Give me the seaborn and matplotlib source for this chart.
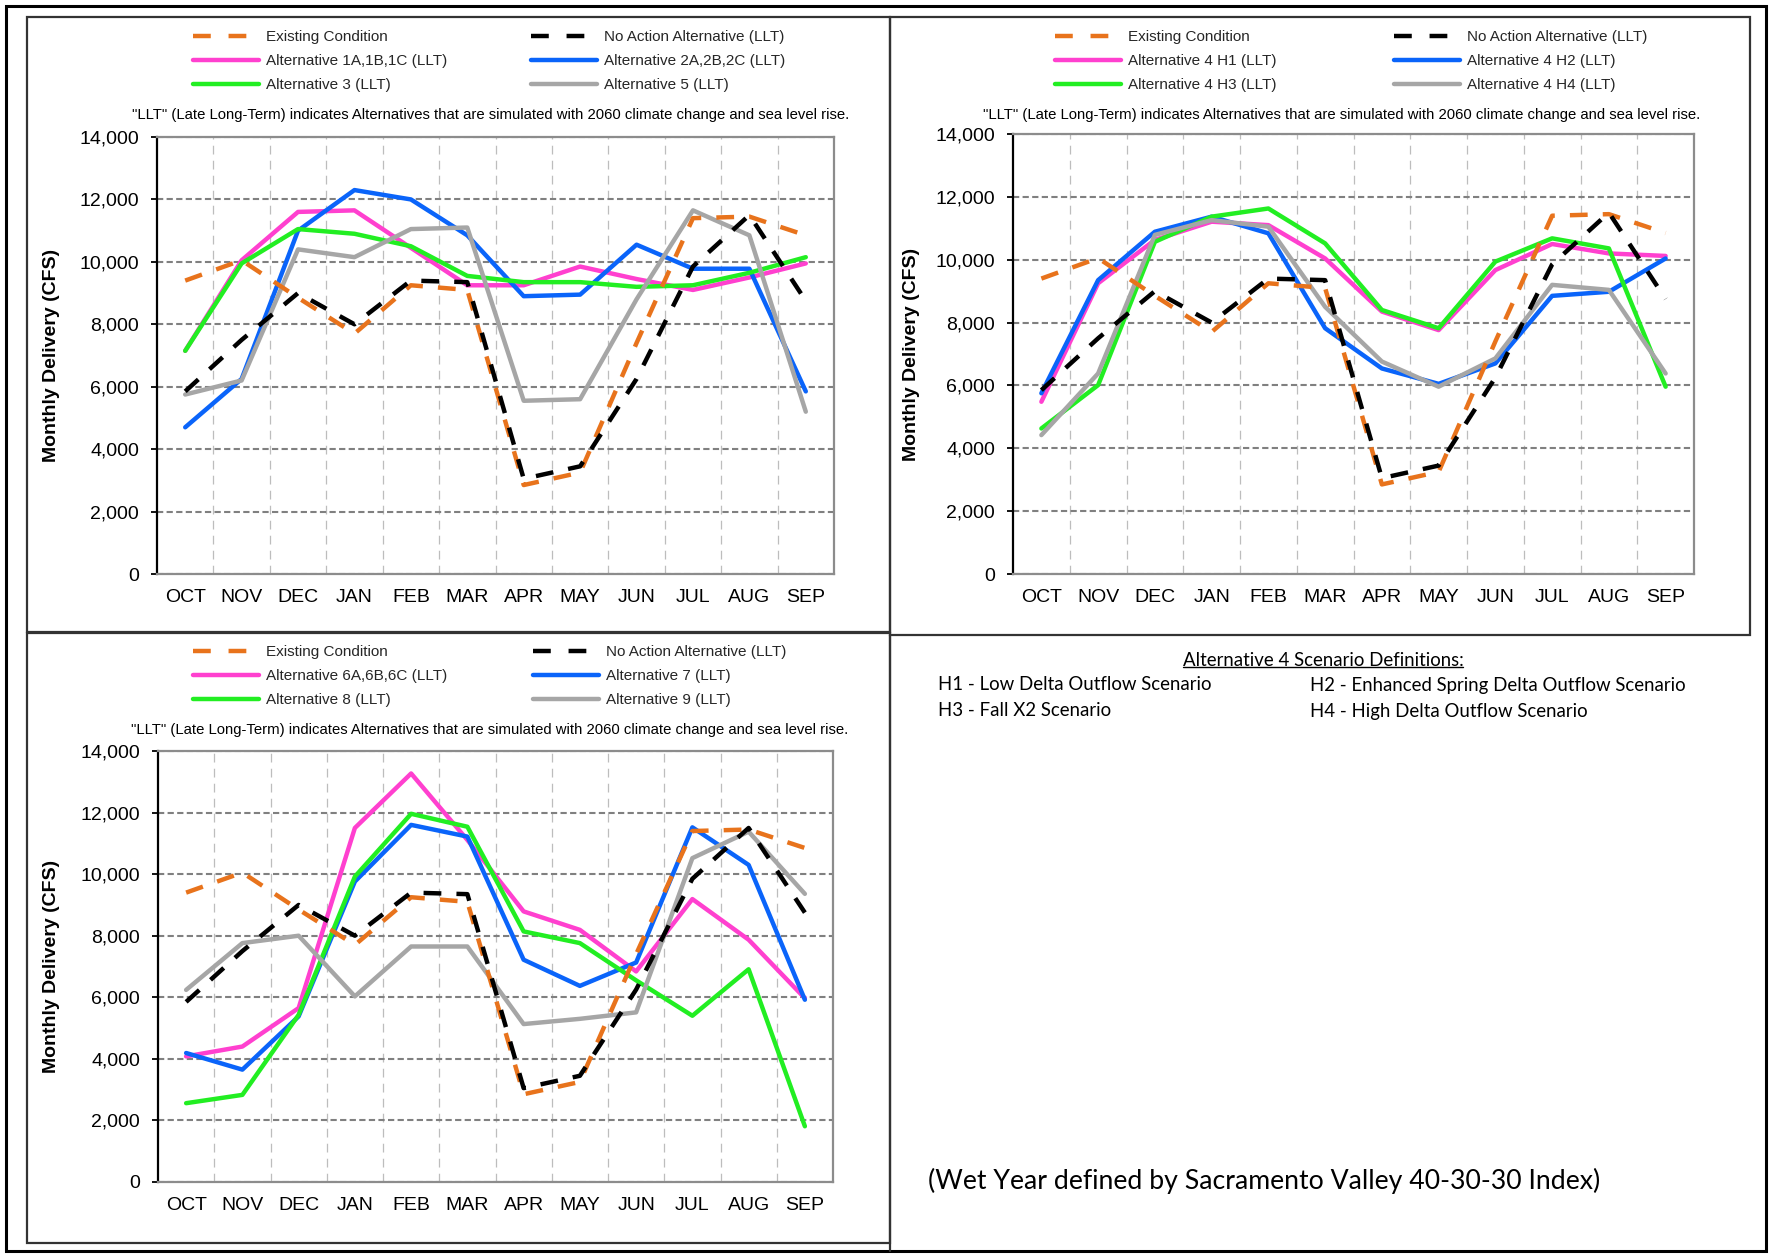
import numpy as np
import pandas as pd
import matplotlib
matplotlib.use("Agg")
import matplotlib.pyplot as plt
import seaborn as sns
from matplotlib.lines import Line2D
from matplotlib.patches import Rectangle

# ---------------- data ----------------
months = ["OCT", "NOV", "DEC", "JAN", "FEB", "MAR", "APR", "MAY", "JUN", "JUL", "AUG", "SEP"]
yticks = [0, 2000, 4000, 6000, 8000, 10000, 12000, 14000]

existing = [9400, 10050, 8850, 7700, 9250, 9100, 2850, 3250, 7400, 11400, 11450, 10850]
no_action = [5850, 7500, 9000, 8000, 9400, 9350, 3050, 3450, 6250, 9850, 11500, 8750]

# panel 1
alt1 = [7150, 10050, 11600, 11650, 10450, 9250, 9250, 9850, 9450, 9100, 9500, 9950]
alt2 = [4700, 6250, 11000, 12300, 12000, 10850, 8900, 8950, 10550, 9780, 9780, 5850]
alt3 = [7150, 9950, 11050, 10900, 10500, 9550, 9350, 9350, 9200, 9250, 9650, 10150]
alt5 = [5750, 6200, 10400, 10150, 11050, 11100, 5550, 5600, 8800, 11650, 10850, 5200]

# panel 2
alt4_h1 = [5480, 9250, 10630, 11210, 11100, 10040, 8350, 7760, 9670, 10500, 10200, 10120]
alt4_h2 = [5750, 9350, 10890, 11370, 10840, 7820, 6540, 6050, 6700, 8850, 8980, 10040]
alt4_h3 = [4630, 6010, 10570, 11370, 11630, 10520, 8400, 7820, 9940, 10680, 10360, 5960]
alt4_h4 = [4420, 6380, 10790, 11260, 11050, 8500, 6760, 5960, 6860, 9200, 9040, 6380]

# panel 3
alt6 = [4080, 4400, 5650, 11500, 13270, 11110, 8790, 8190, 6840, 9190, 7870, 5970]
alt7 = [4190, 3650, 5380, 9760, 11600, 11220, 7220, 6370, 7130, 11520, 10300, 5920]
alt8 = [2560, 2830, 5430, 9920, 11960, 11540, 8140, 7760, 6550, 5400, 6910, 1810]
alt9 = [6240, 7760, 8000, 6030, 7650, 7650, 5130, 5300, 5510, 10520, 11380, 9360]

note = '"LLT" (Late Long-Term) indicates Alternatives that are simulated with 2060 climate change and sea level rise.'

# ---------------- style ----------------
sns.set_theme(style="white")
plt.rcParams["font.family"] = ["Liberation Sans", "DejaVu Sans"]

W, H = 1769, 1256
fig = plt.figure(figsize=(W / 100, H / 100), dpi=100)
fig.patch.set_facecolor("white")
renderer = fig.canvas.get_renderer()

C_EX = "#E8731C"
C_NA = "#000000"
C_PINK = "#FF40CF"
C_BLUE = "#0A64FA"
C_GREEN = "#22EE22"
C_GRAY = "#A6A6A6"
LW = 3.2
DASH = (0, (4.0, 3.4))


def frect(l, t, r, b):
    return [l / W, 1 - b / H, (r - l) / W, (b - t) / H]


def fit_text(t, target_w):
    for _ in range(4):
        w = t.get_window_extent(renderer).width
        t.set_fontsize(t.get_fontsize() * target_w / w)
    return t


panels = [
    dict(ax=(157, 137, 834, 574), box=(27, 17, 890, 632),
         series=[("Alternative 1A,1B,1C (LLT)", alt1, C_PINK),
                 ("Alternative 2A,2B,2C (LLT)", alt2, C_BLUE),
                 ("Alternative 3 (LLT)", alt3, C_GREEN),
                 ("Alternative 5 (LLT)", alt5, C_GRAY)],
         rows=(36, 61, 86), col1=193, col2=531, note=(491, 115), ylab_x=60),
    dict(ax=(1013, 134, 1694, 574), box=(890, 17, 1750, 635),
         series=[("Alternative 4 H1 (LLT)", alt4_h1, C_PINK),
                 ("Alternative 4 H2 (LLT)", alt4_h2, C_BLUE),
                 ("Alternative 4 H3 (LLT)", alt4_h3, C_GREEN),
                 ("Alternative 4 H4 (LLT)", alt4_h4, C_GRAY)],
         rows=(36, 61, 86), col1=1055, col2=1394, note=(1342, 115), ylab_x=920),
    dict(ax=(158, 751, 833, 1182), box=(27, 633, 890, 1243),
         series=[("Alternative 6A,6B,6C (LLT)", alt6, C_PINK),
                 ("Alternative 7 (LLT)", alt7, C_BLUE),
                 ("Alternative 8 (LLT)", alt8, C_GREEN),
                 ("Alternative 9 (LLT)", alt9, C_GRAY)],
         rows=(652, 676, 700), col1=193, col2=533, note=(490, 730), ylab_x=60),
]

# frames
fig.add_artist(Rectangle((6 / W, 1 - 1251 / H), 1760 / W, 1245 / H, transform=fig.transFigure,
                         fill=False, lw=2.2, ec="black", zorder=0))
for p in panels:
    l, t, r, b = p["box"]
    fig.add_artist(Rectangle((l / W, 1 - b / H), (r - l) / W, (b - t) / H, transform=fig.transFigure,
                             fill=False, lw=1.6, ec="#333333", zorder=0))
fig.add_artist(Line2D([890 / W, 890 / W], [1 - 635 / H, 1 - 1251 / H], transform=fig.transFigure,
                      lw=1.6, color="#333333"))

for p in panels:
    l, t, r, b = p["ax"]
    ax = fig.add_axes(frect(l, t, r, b))
    ax.set_facecolor("white")

    # solids first, then dashed
    for name, vals, col in p["series"]:
        sns.lineplot(x=months, y=vals, ax=ax, color=col, linewidth=LW, sort=False,
                     legend=False, zorder=3)
    sns.lineplot(x=months, y=existing, ax=ax, color=C_EX, linewidth=LW, sort=False,
                 legend=False, linestyle=DASH, zorder=4)
    sns.lineplot(x=months, y=no_action, ax=ax, color=C_NA, linewidth=LW, sort=False,
                 legend=False, linestyle=DASH, zorder=5)

    ax.set_xlim(-0.5, len(months) - 0.5)
    ax.set_ylim(yticks[0], yticks[-1])
    ax.set_yticks(yticks)
    ax.set_yticklabels([f"{v:,}" for v in yticks])
    ax.set_xticks(np.arange(0.5, len(months) - 1, 1.0), minor=True)
    ax.grid(axis="y", which="major", color="#808080", lw=1.5, linestyle=(0, (3.0, 1.6)), zorder=1)
    ax.grid(axis="x", which="minor", color="#BDBDBD", lw=0.9, linestyle=(0, (7, 5)), zorder=1)
    ax.grid(axis="x", which="major", visible=False)
    ax.set_axisbelow(True)
    for s in ("top", "right", "bottom"):
        ax.spines[s].set_color("#8C8C8C")
        ax.spines[s].set_linewidth(1.6)
    ax.spines["left"].set_color("black")
    ax.spines["left"].set_linewidth(1.6)
    ax.tick_params(axis="x", which="both", length=0, pad=11, labelsize=14, colors="black")
    ax.tick_params(axis="y", which="major", length=4, width=1.3, direction="out", left=True,
                   pad=9, labelsize=14, colors="black")
    ax.tick_params(axis="y", which="minor", length=0)
    ax.set_xlabel("")
    ax.set_ylabel("Monthly Delivery (CFS)", fontsize=14, fontweight="bold", color="black")
    ax.yaxis.set_label_coords((p["ylab_x"] - l) / (r - l), 0.5)

    def mk(col, dashed):
        if dashed:
            return Line2D([], [], color=col, lw=LW, linestyle=(0, (4.0, 4.0)))
        return Line2D([], [], color=col, lw=LW)

    s = p["series"]
    col1 = [(mk(C_EX, True), "Existing Condition"), (mk(s[0][2], False), s[0][0]),
            (mk(s[2][2], False), s[2][0])]
    col2 = [(mk(C_NA, True), "No Action Alternative (LLT)"), (mk(s[1][2], False), s[1][0]),
            (mk(s[3][2], False), s[3][0])]
    legs = []
    for items, x0 in ((col1, p["col1"]), (col2, p["col2"])):
        lg = ax.legend([h for h, _ in items], [t_ for _, t_ in items], loc="center left",
                       bbox_to_anchor=(x0 / W, 1 - p["rows"][1] / H), bbox_transform=fig.transFigure,
                       frameon=False, fontsize=11, borderpad=0, borderaxespad=0,
                       handlelength=4.3, handletextpad=0.45, labelspacing=0.66)
        legs.append(lg)
    ax.add_artist(legs[0])

    nt = fig.text(p["note"][0] / W, 1 - p["note"][1] / H, note, ha="center", va="center",
                  fontsize=10, color="black")
    fit_text(nt, 721)

# ---------------- right-bottom text block ----------------
cal = ["Lato", "DejaVu Sans"]
title = fig.text(1323 / W, 1 - 660 / H, "Alternative 4 Scenario Definitions:", ha="center",
                 va="center", fontsize=12, family=cal, color="black")
fit_text(title, 283)
bb = title.get_window_extent(renderer)
fig.add_artist(Line2D([bb.x0 / W, bb.x1 / W], [(bb.y0 + 2) / H, (bb.y0 + 2) / H],
                      transform=fig.transFigure, lw=1.0, color="black"))

h2 = fig.text(1310 / W, 1 - 685 / H, "H2 - Enhanced Spring Delta Outflow Scenario", ha="left",
              va="center", fontsize=12, family=cal, color="black")
fit_text(h2, 376)
fs = h2.get_fontsize()
fig.text(938 / W, 1 - 685 / H, "H1 - Low Delta Outflow Scenario", ha="left", va="center",
         fontsize=fs, family=cal, color="black")
fig.text(938 / W, 1 - 711 / H, "H3 - Fall X2 Scenario", ha="left", va="center",
         fontsize=fs, family=cal, color="black")
fig.text(1310 / W, 1 - 711 / H, "H4 - High Delta Outflow Scenario", ha="left", va="center",
         fontsize=fs, family=cal, color="black")

wet = fig.text(928 / W, 1 - 1181 / H, "(Wet Year defined by Sacramento Valley 40-30-30 Index)",
               ha="left", va="center", fontsize=17, family=cal, color="black")
fit_text(wet, 674)

fig.savefig("out.png", dpi=100, facecolor="white")
